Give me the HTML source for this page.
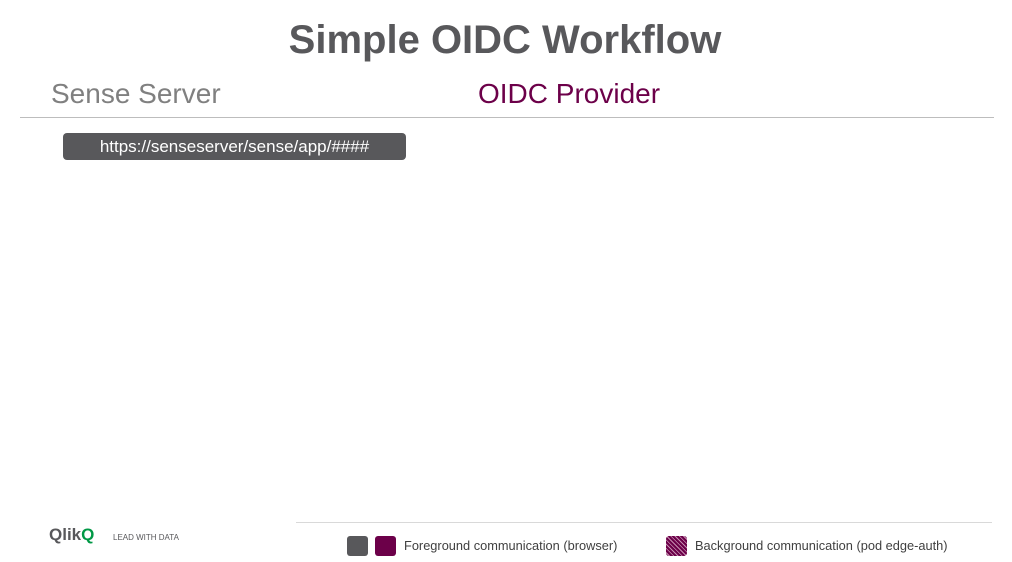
<!DOCTYPE html>
<html><head><style>
body{margin:0;width:1012px;height:562px;background:#fff;position:relative;overflow:hidden;font-family:"Liberation Sans",sans-serif}
.a{position:absolute;white-space:nowrap}
</style></head><body>
<div class="a" style="left:0;width:1010px;top:18px;text-align:center;font-size:40px;font-weight:bold;color:#58585b">Simple OIDC Workflow</div>
<div class="a" style="left:51px;top:78px;font-size:28px;color:#808080">Sense Server</div>
<div class="a" style="left:478px;top:78px;font-size:28px;color:#6c0049">OIDC Provider</div>
<div class="a" style="left:20px;top:117px;width:974px;height:1px;background:#bdbdbd"></div>
<div class="a" style="left:63px;top:133px;width:343px;height:27px;background:#58585b;border-radius:4px;color:#fff;font-size:17px;line-height:27px;text-align:center">https://senseserver/sense/app/####</div>
<div class="a" style="left:296px;top:522px;width:696px;height:1px;background:#d9d9d9"></div>
<div class="a" style="left:49px;top:525px;font-size:17px;font-weight:bold;color:#58585b">Qlik<span style="color:#009845">Q</span></div>
<div class="a" style="left:113px;top:533px;font-size:8px;color:#58585b">LEAD WITH DATA</div>
<div class="a" style="left:347px;top:536px;width:21px;height:20px;background:#58585b;border-radius:3px"></div>
<div class="a" style="left:375px;top:536px;width:21px;height:20px;background:#6c0049;border-radius:3px"></div>
<div class="a" style="left:404px;top:538px;font-size:12.8px;color:#404040">Foreground communication (browser)</div>
<div class="a" style="left:666px;top:536px;width:21px;height:20px;border-radius:3px;background:repeating-linear-gradient(45deg,#6c0049 0 2px,#c58fb0 2px 3px)"></div>
<div class="a" style="left:695px;top:538px;font-size:12.8px;color:#404040">Background communication (pod edge-auth)</div>
</body></html>
